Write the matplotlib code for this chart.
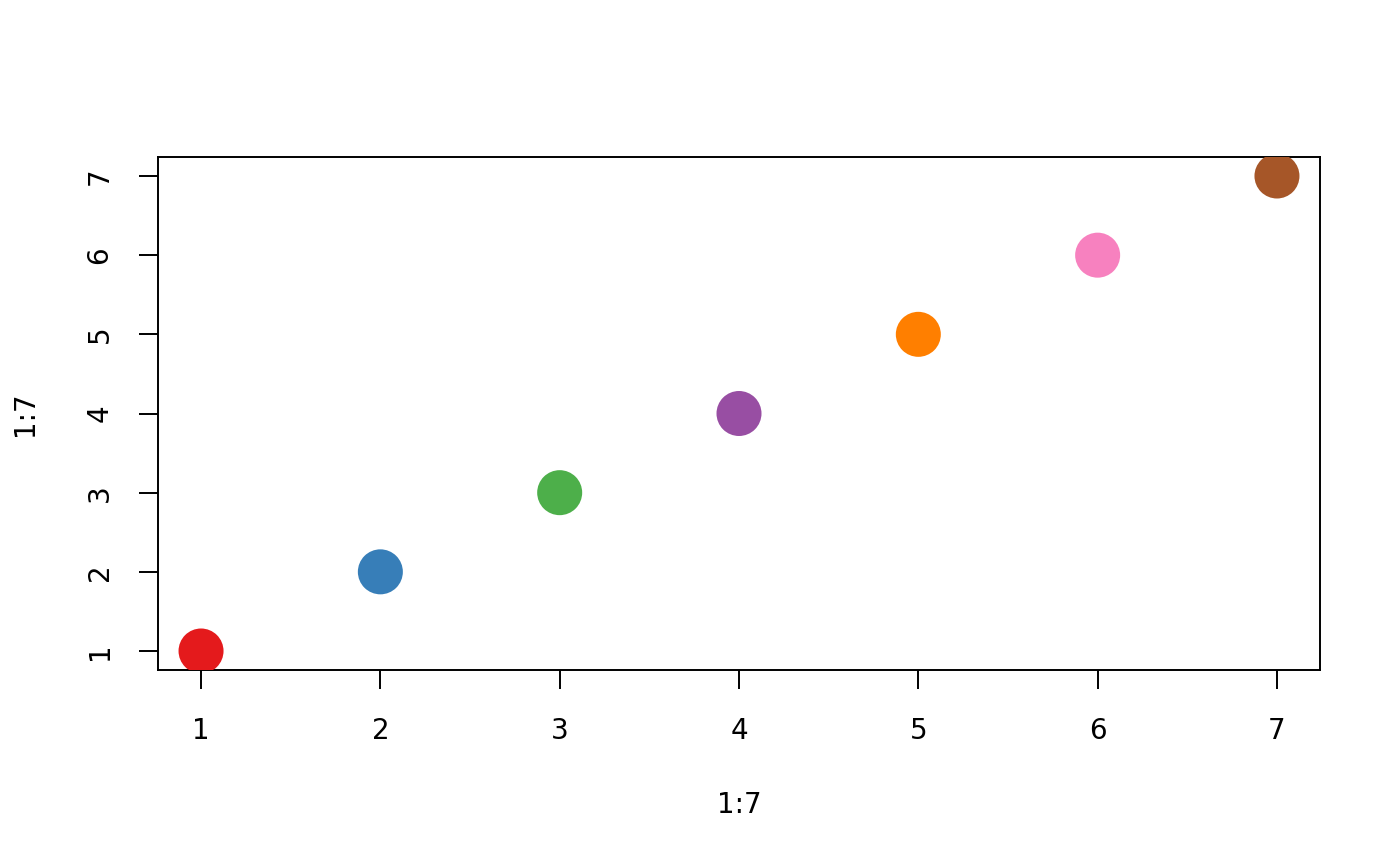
import numpy as np
import matplotlib.pyplot as plt

# data: plot(1:7, 1:7, col = Set1 colours)
xs = [1, 2, 3, 4, 5, 6, 7]
ys = [1, 2, 3, 4, 5, 6, 7]
colors = ['#E41A1C', '#377EB8', '#4DAF4A', '#984EA3', '#FF7F00', '#F781BF', '#A65628']

fig = plt.figure(figsize=(14, 8.66), dpi=100)
ax = fig.add_axes([158 / 1400, 1 - 670 / 866, (1320 - 158) / 1400, (670 - 157) / 866])

ax.scatter(xs, ys, c=colors, s=1050, edgecolors='none', zorder=3)

ax.set_xlim(0.76, 7.24)
ax.set_ylim(0.76, 7.24)
ax.set_xticks(xs)
ax.set_yticks(ys)
ax.tick_params(direction='out', length=14, width=1.4, labelsize=20)
ax.tick_params(axis='x', pad=20)
ax.tick_params(axis='y', pad=18)
for lab in ax.get_yticklabels():
    lab.set_rotation(90)
    lab.set_va('center')
for s in ax.spines.values():
    s.set_linewidth(1.4)

ax.set_xlabel('1:7', fontsize=20, va='center')
ax.set_ylabel('1:7', fontsize=20, va='center')
ax.xaxis.set_label_coords(0.5, (670 - 805) / 513)
ax.yaxis.set_label_coords((25 - 158) / 1162, 0.5)

fig.savefig('out.png', dpi=100)
